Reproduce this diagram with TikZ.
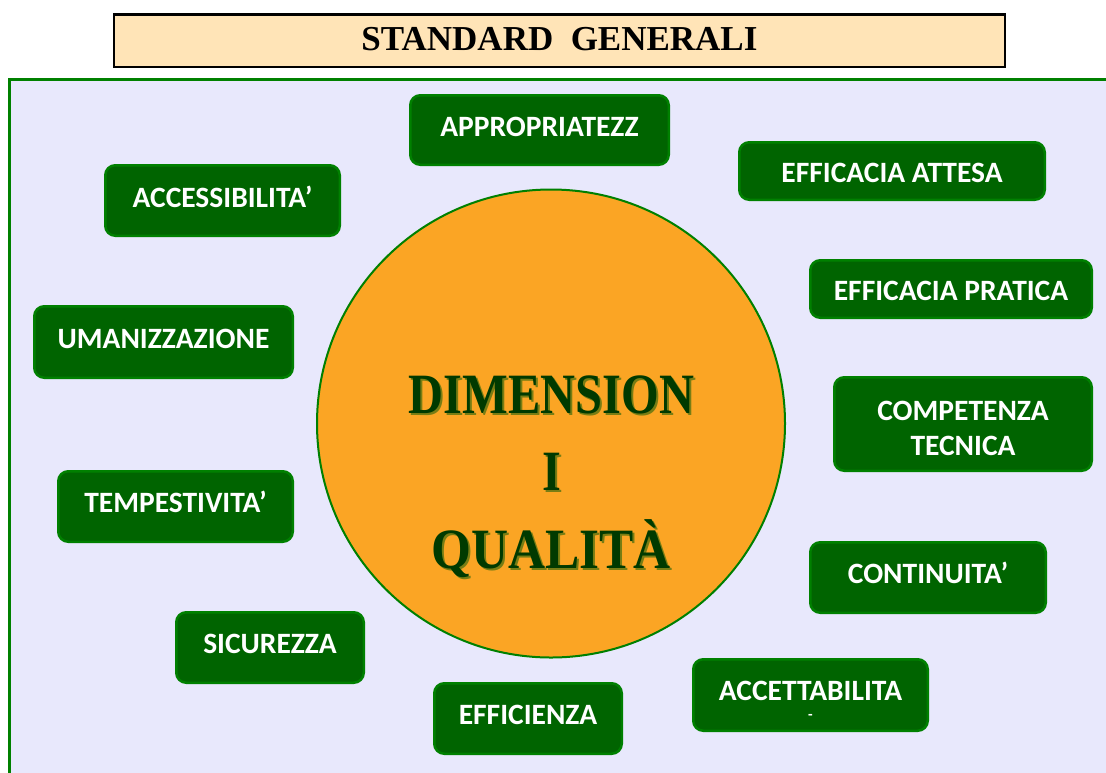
\documentclass[tikz,border=0pt]{standalone}
\usepackage{fontspec}
\usepackage{graphicx}
\setmainfont{Liberation Serif}
\newfontfamily\boxfont{Carlito}
\newfontfamily\serfont{Liberation Serif}
\definecolor{panelfill}{RGB}{232,232,252}
\definecolor{panelline}{RGB}{0,128,0}
\definecolor{titlefill}{RGB}{255,228,183}
\definecolor{boxfill}{RGB}{0,100,0}
\definecolor{boxline}{RGB}{0,128,0}
\definecolor{circfill}{RGB}{251,165,36}
\definecolor{dimgreen}{RGB}{0,58,0}
\definecolor{dimolive}{RGB}{120,125,20}
\tikzset{
  gbox/.style={draw=boxline, fill=boxfill, line width=2.5pt, rounded corners=10pt,
    text=white, font=\boxfont\bfseries\fontsize{29.5}{35}\selectfont, inner sep=0pt},
  tup/.style={text height=19pt, text depth=#1},
  tdown/.style={text height=#1, text depth=0pt},
  dimtxt/.style={text=dimgreen, font=\serfont\bfseries\fontsize{57}{60}\selectfont,
    inner sep=0pt, text height=38pt, text depth=0pt},
  dimshadow/.style={dimtxt, text=dimolive, xshift=2pt, yshift=-2pt}
}
\begin{document}
\begin{tikzpicture}[x=1pt,y=-1pt]
\useasboundingbox (0,0) rectangle (1106,772);
\fill[white] (0,0) rectangle (1106,772);
\begin{scope}
\clip (0,0) rectangle (1106,772);
\draw[fill=panelfill, draw=panelline, line width=3pt] (9.5,79.5) rectangle (1125,790);
\end{scope}

\node[draw=black, fill=titlefill, line width=2.5pt, minimum width=891pt, minimum height=52.5pt,
  font=\serfont\bfseries\fontsize{35}{40}\selectfont, inner sep=0pt, text height=23pt, text depth=3pt]
  (title) at (559.5,40.5) {STANDARD~~GENERALI};

\node[circle, draw=panelline, fill=circfill, line width=2pt, minimum size=468pt, inner sep=0pt]
  (circ) at (551,423.5) {};

\node[dimshadow] (dim1s) at (551.5,394) {\scalebox{0.85}[1]{DIMENSION}};
\node[dimshadow] (dim2s) at (551.5,471) {\scalebox{0.85}[1]{I}};
\node[dimshadow] (dim3s) at (551,549) {\scalebox{0.9}[1]{QUALITÀ}};
\node[dimtxt] (dim1) at (551.5,394) {\scalebox{0.85}[1]{DIMENSION}};
\node[dimtxt] (dim2) at (551.5,471) {\scalebox{0.85}[1]{I}};
\node[dimtxt] (dim3) at (551,549) {\scalebox{0.9}[1]{QUALITÀ}};

\node[gbox, tup=6pt, minimum width=258.5pt, minimum height=69.5pt] (appr) at (539.5,130) {APPROPRIATEZZ};
\node[gbox, tdown=23pt, minimum width=305.5pt, minimum height=57.5pt] (effatt) at (892,171) {EFFICACIA ATTESA};
\node[gbox, tup=6pt, minimum width=234.5pt, minimum height=70.5pt] (access) at (222.5,200.5) {ACCESSIBILITA’};
\node[gbox, tdown=23pt, minimum width=281.5pt, minimum height=57.5pt] (effprat) at (951,289) {EFFICACIA PRATICA};
\node[gbox, tup=7pt, minimum width=258.5pt, minimum height=71.5pt] (uman) at (163.5,342) {UMANIZZAZIONE};
\node[gbox, align=center, minimum width=257.5pt, minimum height=93.5pt] (comp) at (963,424)
  {\rule{0pt}{28.7pt}COMPETENZA\\TECNICA};
\node[gbox, tup=7pt, minimum width=234.5pt, minimum height=70.5pt] (tempest) at (175.5,506.5) {TEMPESTIVITA’};
\node[gbox, tup=8pt, minimum width=235.5pt, minimum height=70.5pt] (contin) at (928,577.5) {CONTINUITA’};
\node[gbox, tup=7pt, minimum width=187.5pt, minimum height=70.5pt] (sicur) at (270,647.5) {SICUREZZA};
\node[gbox, tup=8pt, minimum width=234.5pt, minimum height=71.5pt] (accet) at (810.5,695) {ACCETTABILITA};
\node[text=white, font=\boxfont\bfseries\fontsize{15}{17}\selectfont, inner sep=0pt] (accdash) at (810.5,717) {-};
\node[gbox, tup=8pt, minimum width=187.5pt, minimum height=70.5pt] (effic) at (528,718.5) {EFFICIENZA};
\end{tikzpicture}
\end{document}
